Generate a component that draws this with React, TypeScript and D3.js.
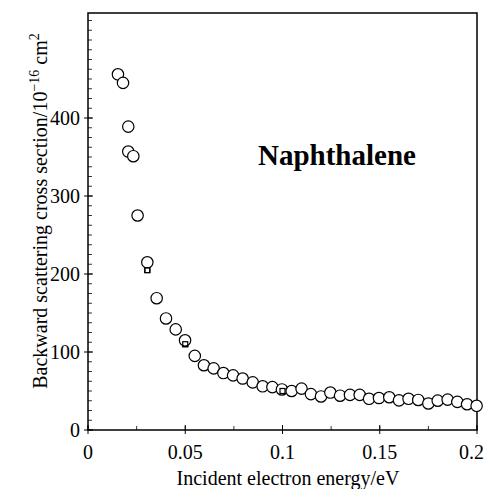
import React from "react";
import * as d3 from "d3";

const energy = [0.0154, 0.018, 0.0207, 0.0207, 0.0233, 0.0255, 0.0305, 0.0353, 0.0401, 0.0451, 0.0499, 0.0549, 0.0596, 0.0646, 0.0696, 0.0746, 0.0795, 0.0847, 0.0898, 0.0948, 0.0997, 0.1047, 0.1098, 0.1146, 0.1198, 0.1246, 0.1296, 0.1347, 0.1397, 0.1445, 0.1496, 0.1549, 0.1599, 0.1648, 0.1698, 0.175, 0.1798, 0.1849, 0.1899, 0.1949, 0.1998];
const crossSection = [456, 445, 389, 357, 351, 275, 215, 169, 143, 129, 115, 95, 83, 79, 73, 70, 66, 61, 56, 55, 52, 50, 53, 46, 43, 48, 44, 45, 45, 40, 41, 42, 38, 40, 38.5, 34, 37.6, 39, 36, 33, 31];
const squareEnergy = [0.0305, 0.05, 0.1];
const squareCross = [205, 110, 50];
const xTickValues = [0, 0.05, 0.1, 0.15, 0.2];
const xTickLabels = ["0", "0.05", "0.1", "0.15", "0.2"];
const yTickValues = [0, 100, 200, 300, 400];
const yTickLabels = ["0", "100", "200", "300", "400"];

const W = 485, H = 489;
const L = 88, R = 477, T = 13, B = 430;
const font = "'Liberation Serif', 'Times New Roman', serif";

export default function App() {
  const x = d3.scaleLinear().domain([0, 0.2]).range([L, R]);
  const y = d3.scaleLinear().domain([0, 400]).range([B, 118]);
  const yTop = y.invert(T);
  const xMinor = d3.range(0, 0.2001, 0.025);
  const yMinor = d3.range(0, yTop, 12.5);
  return (
    <svg width={W} height={H} style={{ position: "absolute", left: 0, top: 0, background: "#fff" }}>
      <rect x={0} y={0} width={W} height={H} fill="#fff" />
      <rect x={L} y={T} width={R - L} height={B - T} fill="none" stroke="#000" strokeWidth={1.5} />
      {yMinor.map((v, i) => (
        <line key={"ym" + i} x1={L} x2={L + 4} y1={y(v)} y2={y(v)} stroke="#000" strokeWidth={0.8} />
      ))}
      {yTickValues.map((v, i) => (
        <g key={"yt" + i}>
          <line x1={L - 4} x2={L + 5} y1={y(v)} y2={y(v)} stroke="#000" strokeWidth={1} />
          <text x={L - 8} y={y(v)} dy="0.35em" textAnchor="end" fontFamily={font} fontSize={20}>{yTickLabels[i]}</text>
        </g>
      ))}
      {xMinor.map((v, i) => (
        <line key={"xm" + i} x1={x(v)} x2={x(v)} y1={B} y2={B - 4} stroke="#000" strokeWidth={0.8} />
      ))}
      {xTickValues.map((v, i) => {
        const last = i === xTickValues.length - 1;
        return (
          <g key={"xt" + i}>
            <line x1={x(v)} x2={x(v)} y1={B + 4} y2={B - 5} stroke="#000" strokeWidth={1} />
            <text x={last ? W - 1 : x(v)} y={459} textAnchor={last ? "end" : "middle"} fontFamily={font} fontSize={20}>{xTickLabels[i]}</text>
          </g>
        );
      })}
      {squareEnergy.map((v, i) => (
        <rect key={"sq" + i} x={x(v) - 2.5} y={y(squareCross[i]) - 2.5} width={5} height={5} fill="#fff" stroke="#000" strokeWidth={1.2} />
      ))}
      {energy.map((v, i) => (
        <circle key={"c" + i} cx={x(v)} cy={y(crossSection[i])} r={5.7} fill="#fff" stroke="#000" strokeWidth={1.2} />
      ))}
      {squareEnergy.map((v, i) => (
        <rect key={"sq2" + i} x={x(v) - 2.5} y={y(squareCross[i]) - 2.5} width={5} height={5} fill="none" stroke="#000" strokeWidth={1.2} />
      ))}
      <text x={258} y={165} fontFamily={font} fontSize={29} fontWeight="bold">Naphthalene</text>
      <text x={288} y={485} textAnchor="middle" fontFamily={font} fontSize={20}>Incident electron energy/eV</text>
      <text transform={`translate(47, 211) rotate(-90)`} textAnchor="middle" fontFamily={font} fontSize={20}>
        Backward scattering cross section/10<tspan dy={-8} fontSize={14}>−16</tspan><tspan dy={8}> cm</tspan><tspan dy={-8} fontSize={14}>2</tspan>
      </text>
    </svg>
  );
}
